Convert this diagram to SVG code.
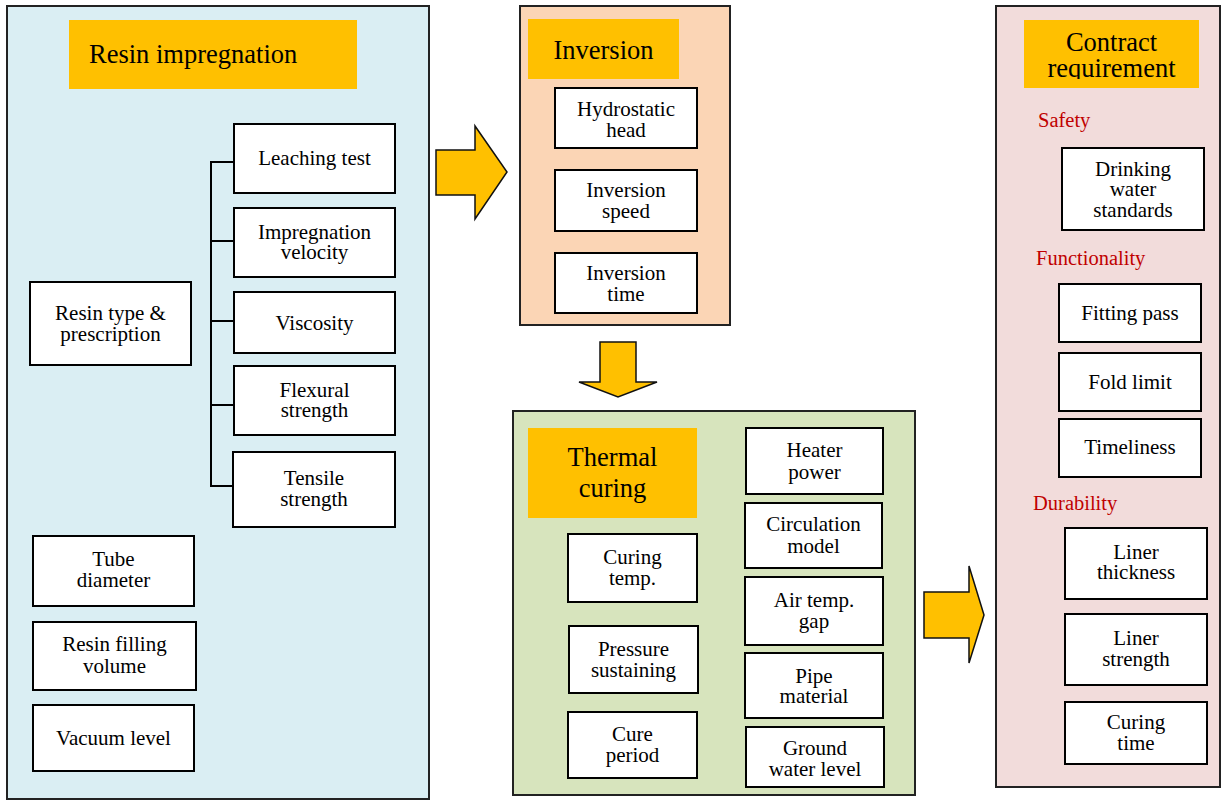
<svg xmlns="http://www.w3.org/2000/svg" width="1224" height="801" viewBox="0 0 1224 801">
<defs>
<style>
.panel{stroke:#222;stroke-width:2}
.title{fill:#FFC000}
.box{fill:#fff;stroke:#000;stroke-width:2}
.arrow{fill:#FFC000;stroke:#111;stroke-width:1.5;stroke-linejoin:miter}
.ln{stroke:#000;stroke-width:2;fill:none}
text{font-family:"Liberation Serif","Times New Roman",serif;fill:#000}
.t{font-size:21px;text-anchor:middle}
.h{font-size:26.5px}
.hc{font-size:26.5px;text-anchor:middle}
.red{font-size:20.5px;fill:#C00000}
</style>
<clipPath id="crClip"><rect x="1024" y="20" width="175" height="59"/></clipPath>
</defs>
<rect width="1224" height="801" fill="#fff"/>

<g id="panel-resin">
<rect class="panel" x="7" y="6" width="422" height="793" fill="#DAEEF3"/>
<rect class="title" x="69" y="20" width="288" height="69"/>
<text class="h" x="89" y="63">Resin impregnation</text>
</g>

<g id="connectors">
<path class="ln" d="M234 162H211V486H232M211 241H234M211 321H234M211 405H234"/>
<path class="ln" d="M746 463H719V759H746M719 539H745M719 614H745M719 688H745"/>
<path id="arrow-1" class="arrow" d="M436 150H475V126L507 172L475 219V195H436Z"/>
<path id="arrow-2" class="arrow" d="M600 342H636V382H657L618 397L579 382H600Z"/>
<path id="arrow-3" class="arrow" d="M924 592H969V566L984 615L969 663V638H924Z"/>
</g>

<g id="n-leaching"><rect class="box" x="234" y="124" width="161" height="69"/><text class="t" x="314.5" y="165">Leaching test</text></g>
<g id="n-impvel"><rect class="box" x="234" y="208" width="161" height="69"/><text class="t" x="314.5" y="239">Impregnation</text><text class="t" x="314.5" y="259">velocity</text></g>
<g id="n-visc"><rect class="box" x="234" y="292" width="161" height="61"/><text class="t" x="314.5" y="330">Viscosity</text></g>
<g id="n-flex"><rect class="box" x="234" y="366" width="161" height="69"/><text class="t" x="314.5" y="397">Flexural</text><text class="t" x="314.5" y="417">strength</text></g>
<g id="n-tensile"><rect class="box" x="233" y="452" width="162" height="75"/><text class="t" x="314" y="485">Tensile</text><text class="t" x="314" y="506">strength</text></g>
<g id="n-resintype"><rect class="box" x="30" y="282" width="161" height="83"/><text class="t" x="110.5" y="320">Resin type &amp;</text><text class="t" x="110.5" y="341">prescription</text></g>
<g id="n-tube"><rect class="box" x="33" y="536" width="161" height="70"/><text class="t" x="113.5" y="566">Tube</text><text class="t" x="113.5" y="587">diameter</text></g>
<g id="n-filling"><rect class="box" x="33" y="622" width="163" height="68"/><text class="t" x="114.5" y="651">Resin filling</text><text class="t" x="114.5" y="673">volume</text></g>
<g id="n-vacuum"><rect class="box" x="33" y="705" width="161" height="66"/><text class="t" x="113.5" y="745">Vacuum level</text></g>

<g id="panel-inversion">
<rect class="panel" x="520" y="6" width="210" height="319" fill="#FBD5B5"/>
<rect class="title" x="528" y="19" width="151" height="60"/>
<text class="hc" x="603.5" y="59">Inversion</text>
</g>
<g id="n-hydro"><rect class="box" x="555" y="88" width="142" height="60"/><text class="t" x="626" y="116">Hydrostatic</text><text class="t" x="626" y="137">head</text></g>
<g id="n-invspeed"><rect class="box" x="555" y="170" width="142" height="61"/><text class="t" x="626" y="197">Inversion</text><text class="t" x="626" y="218">speed</text></g>
<g id="n-invtime"><rect class="box" x="555" y="253" width="142" height="60"/><text class="t" x="626" y="280">Inversion</text><text class="t" x="626" y="301">time</text></g>

<g id="panel-thermal">
<rect class="panel" x="513" y="411" width="402" height="384" fill="#D7E4BD"/>
<rect class="title" x="528" y="428" width="169" height="90"/>
<text class="hc" x="612.5" y="466">Thermal</text>
<text class="hc" x="612.5" y="497">curing</text>
</g>
<g id="n-curetemp"><rect class="box" x="568" y="534" width="129" height="68"/><text class="t" x="632.5" y="564">Curing</text><text class="t" x="632.5" y="585">temp.</text></g>
<g id="n-pressure"><rect class="box" x="569" y="626" width="129" height="67"/><text class="t" x="633.5" y="656">Pressure</text><text class="t" x="633.5" y="677">sustaining</text></g>
<g id="n-cureperiod"><rect class="box" x="568" y="712" width="129" height="66"/><text class="t" x="632.5" y="741">Cure</text><text class="t" x="632.5" y="762">period</text></g>
<g id="n-heater"><rect class="box" x="746" y="428" width="137" height="66"/><text class="t" x="814.5" y="457">Heater</text><text class="t" x="814.5" y="479">power</text></g>
<g id="n-circ"><rect class="box" x="745" y="503" width="137" height="65"/><text class="t" x="813.5" y="531">Circulation</text><text class="t" x="813.5" y="553">model</text></g>
<g id="n-airtemp"><rect class="box" x="745" y="577" width="138" height="68"/><text class="t" x="814" y="607">Air temp.</text><text class="t" x="814" y="628">gap</text></g>
<g id="n-pipe"><rect class="box" x="745" y="653" width="138" height="65"/><text class="t" x="814" y="683">Pipe</text><text class="t" x="814" y="703">material</text></g>
<g id="n-ground"><rect class="box" x="746" y="727" width="138" height="60"/><text class="t" x="815" y="755">Ground</text><text class="t" x="815" y="776">water level</text></g>

<g id="panel-contract">
<rect class="panel" x="996" y="6" width="224" height="781" fill="#F2DCDB"/>
<rect class="title" x="1024" y="20" width="175" height="68"/>
<text class="hc" x="1111.5" y="51">Contract</text>
<text class="hc" x="1111.5" y="77" clip-path="url(#crClip)">requirement</text>
<text class="red" x="1038" y="127">Safety</text>
<text class="red" x="1036" y="265">Functionality</text>
<text class="red" x="1033" y="510">Durability</text>
</g>
<g id="n-drinking"><rect class="box" x="1062" y="148" width="142" height="82"/><text class="t" x="1133" y="176">Drinking</text><text class="t" x="1133" y="196">water</text><text class="t" x="1133" y="217">standards</text></g>
<g id="n-fitting"><rect class="box" x="1059" y="284" width="142" height="58"/><text class="t" x="1130" y="320">Fitting pass</text></g>
<g id="n-fold"><rect class="box" x="1059" y="353" width="142" height="58"/><text class="t" x="1130" y="389">Fold limit</text></g>
<g id="n-timeliness"><rect class="box" x="1059" y="419" width="142" height="58"/><text class="t" x="1130" y="454">Timeliness</text></g>
<g id="n-linerthick"><rect class="box" x="1065" y="528" width="142" height="71"/><text class="t" x="1136" y="559">Liner</text><text class="t" x="1136" y="579">thickness</text></g>
<g id="n-linerstr"><rect class="box" x="1065" y="614" width="142" height="71"/><text class="t" x="1136" y="645">Liner</text><text class="t" x="1136" y="666">strength</text></g>
<g id="n-curingtime"><rect class="box" x="1065" y="702" width="142" height="62"/><text class="t" x="1136" y="729">Curing</text><text class="t" x="1136" y="750">time</text></g>
</svg>
